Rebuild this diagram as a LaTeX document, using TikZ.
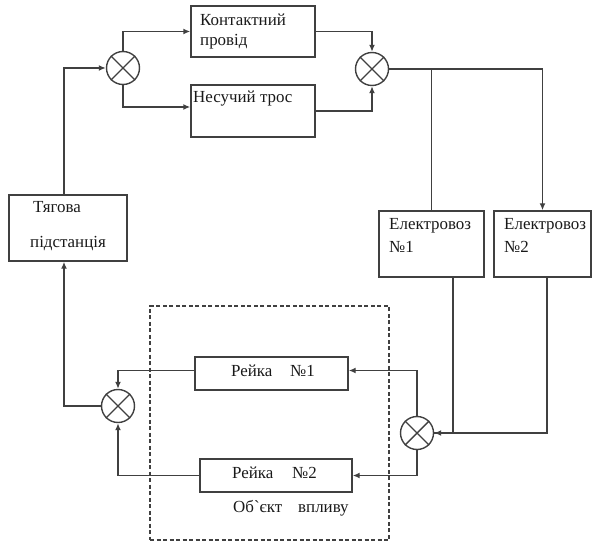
\documentclass[tikz,border=0pt]{standalone}
\usepackage{fontspec}
\setmainfont{Liberation Serif}
\usetikzlibrary{arrows.meta}
\newcommand\lblfont{\fontsize{17}{20}\selectfont}
\tikzset{
  ln/.style={draw=black!75, line width=1.4bp},
  blk/.style={ln, rectangle, inner sep=0pt},
  sum/.style={ln, circle, minimum size=33bp, inner sep=0pt},
  arr/.style={ln, -{Latex[length=7bp,width=6bp]}},
  txt/.style={anchor=base west, inner sep=0pt, font=\lblfont, text=black!90}
}
\begin{document}
\begin{tikzpicture}[x=1bp, y=-1bp]
\useasboundingbox (0,0) rectangle (592,542);

% blocks
\node[blk, minimum width=118bp, minimum height=66bp] (ty) at (68,228) {};
\node[blk, minimum width=124bp, minimum height=51bp] (kp) at (253,31.5) {};
\node[blk, minimum width=124bp, minimum height=52bp] (nt) at (253,111) {};
\node[blk, minimum width=105bp, minimum height=66bp] (e1) at (431.5,244) {};
\node[blk, minimum width=97bp, minimum height=66bp] (e2) at (542.5,244) {};
\node[blk, minimum width=153bp, minimum height=33bp] (r1) at (271.5,373.5) {};
\node[blk, minimum width=152bp, minimum height=33bp] (r2) at (276,475.5) {};
\node[blk, dash pattern=on 4bp off 2.5bp, line width=1.2bp, minimum width=239bp, minimum height=234bp] (obj) at (269.5,423) {};

% summing junctions
\node[sum] (j1) at (123,68) {};
\node[sum] (j2) at (372,69) {};
\node[sum] (j3) at (417,433) {};
\node[sum] (j4) at (118,406) {};
\foreach \j in {j1,j2,j3,j4}
  \draw[ln] (\j.north west) -- (\j.south east) (\j.north east) -- (\j.south west);

% labels
\node[txt] (kpa) at (200,26) {Контактний};
\node[txt] (kpb) at (200,46) {провід};
\node[txt] (nta) at (193,103) {Несучий трос};
\node[txt] (tya) at (33,213) {Тягова};
\node[txt] (tyb) at (30,247) {підстанція};
\node[txt] (e1a) at (389,230) {Електровоз};
\node[txt] (e1b) at (389,252) {№1};
\node[txt] (e2a) at (504,230) {Електровоз};
\node[txt] (e2b) at (504,252) {№2};
\node[txt] (r1a) at (231,376) {Рейка};
\node[txt] (r1b) at (290,376) {№1};
\node[txt] (r2a) at (232,478) {Рейка};
\node[txt] (r2b) at (292,478) {№2};
\node[txt] (oba) at (233,512) {Об\textasciigrave єкт};
\node[txt] (obb) at (298,512) {впливу};

% helper x positions of vertical runs
\coordinate (xl) at (64,0);
\coordinate (xa) at (453,0);
\coordinate (xb) at (547,0);

% connectors
\draw[arr] (ty.north -| xl) |- (j1.west);
\draw[arr] (j1.north) |- (kp.west);
\draw[arr] (j1.south) |- ([yshift=4bp]nt.west);
\draw[arr] (kp.east) -| (j2.north);
\draw[arr] (nt.east) -| (j2.south);
\draw[arr] (j2.east) -| (e2.north);
\draw[ln] (e1.north) |- (j2.east);
\draw[ln] (e1.south -| xa) |- (j3.east);
\draw[arr] (e2.south -| xb) |- (j3.east);
\draw[arr] (j3.north) |- ([yshift=3bp]r1.east);
\draw[arr] (j3.south) |- (r2.east);
\draw[arr] ([yshift=3bp]r1.west) -| (j4.north);
\draw[arr] (r2.west) -| (j4.south);
\draw[arr] (j4.west) -| (ty.south -| xl);
\end{tikzpicture}
\end{document}
